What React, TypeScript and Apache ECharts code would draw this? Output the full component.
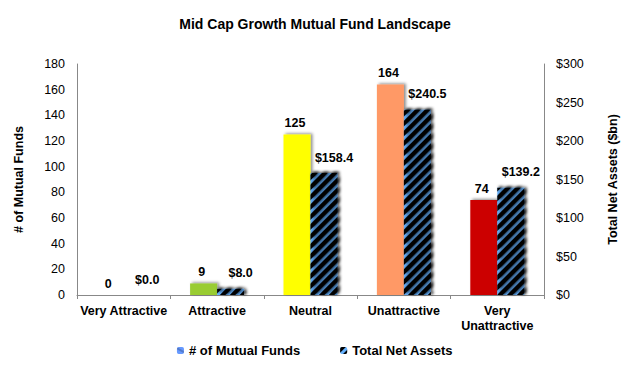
import React, { useEffect, useRef } from "react";
import * as echarts from "echarts";

const categories = ["Very Attractive", "Attractive", "Neutral", "Unattractive", "Very\nUnattractive"];
const fundCounts = [0, 9, 125, 164, 74];
const netAssets = [0.0, 8.0, 158.4, 240.5, 139.2];
const fundColors = ["#006633", "#99CC33", "#FFFF00", "#FF9966", "#CC0000"];
const leftTicks = [0, 180, 20];
const rightTicks = [0, 300, 50];

const FONT = "'Liberation Sans', Arial, sans-serif";

export default function App() {
  const ref = useRef<HTMLDivElement>(null);
  useEffect(() => {
    if (!ref.current) return;
    const chart = echarts.init(ref.current, undefined, { renderer: "svg" });
    const shadow = {
      shadowBlur: 3,
      shadowColor: "rgba(0,0,0,0.45)",
      shadowOffsetX: 2,
      shadowOffsetY: -1,
    };
    chart.setOption({
      animation: false,
      backgroundColor: "#ffffff",
      aria: { enabled: true, label: { enabled: false }, decal: { show: true } },
      title: {
        text: "Mid Cap Growth Mutual Fund Landscape",
        left: "center",
        top: 12,
        textStyle: { fontFamily: FONT, fontSize: 14, fontWeight: "bold", color: "#000" },
      },
      legend: {
        bottom: 6,
        left: "center",
        itemWidth: 7,
        itemHeight: 7,
        itemGap: 40,
        textStyle: { fontFamily: FONT, fontSize: 13, fontWeight: "bold", color: "#000" },
        data: ["# of Mutual Funds", "Total Net Assets"],
      },
      grid: { left: 77, right: 86, top: 64, bottom: 73 },
      xAxis: {
        type: "category",
        data: categories,
        axisLine: { lineStyle: { color: "#888" } },
        axisTick: { show: true, length: 4, lineStyle: { color: "#888" } },
        axisLabel: {
          fontFamily: FONT,
          fontSize: 12.5,
          fontWeight: "bold",
          color: "#000",
          interval: 0,
          margin: 8,
          lineHeight: 15,
        },
      },
      yAxis: [
        {
          type: "value",
          min: leftTicks[0],
          max: leftTicks[1],
          interval: leftTicks[2],
          name: "# of Mutual Funds",
          nameLocation: "middle",
          nameGap: 52,
          nameTextStyle: { fontFamily: FONT, fontSize: 12.5, fontWeight: "bold", color: "#000" },
          axisLine: { show: true, lineStyle: { color: "#888" } },
          axisTick: { show: false },
          splitLine: { show: false },
          axisLabel: { fontFamily: FONT, fontSize: 12.5, color: "#000", margin: 12 },
        },
        {
          type: "value",
          min: rightTicks[0],
          max: rightTicks[1],
          interval: rightTicks[2],
          name: "Total Net Assets ($bn)",
          nameLocation: "middle",
          nameGap: 62,
          nameRotate: 90,
          nameTextStyle: { fontFamily: FONT, fontSize: 12.5, fontWeight: "bold", color: "#000" },
          axisLine: { show: true, lineStyle: { color: "#888" } },
          axisTick: { show: false },
          splitLine: { show: false },
          axisLabel: {
            fontFamily: FONT,
            fontSize: 12.5,
            color: "#000",
            margin: 12,
            formatter: (v: number) => "$" + v,
          },
        },
      ],
      series: [
        {
          name: "# of Mutual Funds",
          type: "bar",
          yAxisIndex: 0,
          barWidth: 27,
          barGap: "0%",
          itemStyle: { color: "#6699FF", decal: "none", ...shadow },
          data: fundCounts.map((v, i) => ({ value: v, itemStyle: { color: fundColors[i], decal: "none" } })),
          label: {
            show: true,
            position: "top",
            distance: 5,
            offset: [-2, 0],
            fontFamily: FONT,
            fontSize: 12.5,
            fontWeight: "bold",
            color: "#000",
          },
        },
        {
          name: "Total Net Assets",
          type: "bar",
          yAxisIndex: 1,
          barWidth: 27,
          barGap: "0%",
          itemStyle: {
            color: "#66B2FF",
            ...shadow,
            decal: {
              symbol: "rect",
              symbolSize: 1,
              color: "#000000",
              dashArrayX: [1, 0],
              dashArrayY: [4, 3],
              rotation: -Math.PI / 4,
            },
          },
          data: netAssets,
          label: {
            show: true,
            position: "top",
            distance: 9,
            offset: [10, 0],
            fontFamily: FONT,
            fontSize: 12.5,
            fontWeight: "bold",
            color: "#000",
            formatter: (p: any) => "$" + Number(p.value).toFixed(1),
          },
        },
      ],
    });
    return () => chart.dispose();
  }, []);
  return <div ref={ref} style={{ width: 630, height: 368, position: "absolute", left: 0, top: 0 }} />;
}
